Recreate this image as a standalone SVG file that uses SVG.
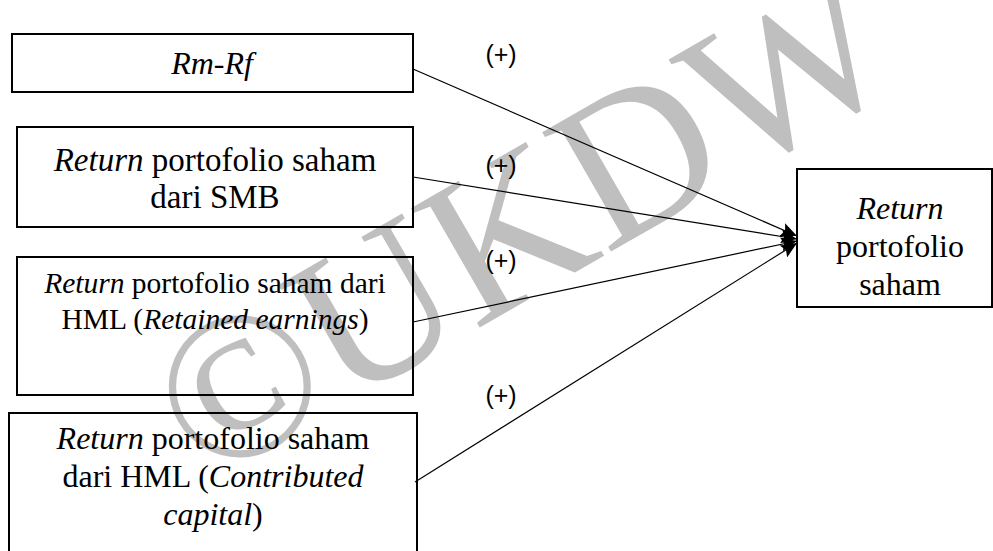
<svg xmlns="http://www.w3.org/2000/svg" width="993" height="551" viewBox="0 0 993 551">
<style>
.box{fill:none;stroke:#000;stroke-width:2}
.t{font-family:"Liberation Serif","Times New Roman",serif;font-size:32px;fill:#000;text-anchor:middle}
.t2{font-size:33px}
.t3{font-size:29.5px}
.i{font-style:italic}
.lbl{font-family:"Liberation Sans",Arial,sans-serif;font-size:25px;fill:#000;text-anchor:middle}
.edge{stroke:#000;stroke-width:1.2;fill:none;marker-end:url(#arr)}
.wm{font-family:"Liberation Serif","Times New Roman",serif;font-size:210px;fill:#bfbfbf}
</style>
<defs>
<marker id="arr" markerUnits="userSpaceOnUse" markerWidth="17" markerHeight="14" refX="16" refY="7" orient="auto">
<path d="M0,0 L16,7 L0,14 L3,7 Z" fill="#000"/>
</marker>
</defs>
<rect width="993" height="551" fill="#fff"/>
<text class="wm" x="205" y="486" transform="rotate(-30 205 486)">©UKDW</text>
<g id="connectors">
<line class="edge" x1="413" y1="69" x2="797" y2="236"/>
<line class="edge" x1="413" y1="177" x2="797" y2="239"/>
<line class="edge" x1="413" y1="322" x2="797" y2="241"/>
<line class="edge" x1="415" y1="482" x2="797" y2="243"/>
<text class="lbl" x="501" y="63">(+)</text>
<text class="lbl" x="501" y="174">(+)</text>
<text class="lbl" x="501" y="269">(+)</text>
<text class="lbl" x="501" y="404">(+)</text>
</g>
<g id="n1">
<rect class="box" x="12" y="34" width="401" height="58"/>
<text class="t i" x="212" y="74">Rm-Rf</text>
</g>
<g id="n2">
<rect class="box" x="17" y="127" width="396" height="100"/>
<text class="t t2" x="215" y="171"><tspan class="i">Return</tspan> portofolio saham</text>
<text class="t t2" x="215" y="208">dari SMB</text>
</g>
<g id="n3">
<rect class="box" x="17" y="257" width="396" height="138"/>
<text class="t t3" x="215" y="293"><tspan class="i">Return</tspan> portofolio saham dari</text>
<text class="t t3" x="215" y="329">HML (<tspan class="i">Retained earnings</tspan>)</text>
</g>
<g id="n4">
<rect class="box" x="9" y="413" width="408" height="160"/>
<text class="t" x="213" y="449"><tspan class="i">Return</tspan> portofolio saham</text>
<text class="t" x="213" y="487">dari HML (<tspan class="i">Contributed</tspan></text>
<text class="t" x="213" y="525"><tspan class="i">capital</tspan>)</text>
</g>
<g id="n5">
<rect class="box" x="797" y="169" width="195" height="138"/>
<text class="t" x="900" y="219" font-style="italic">Return</text>
<text class="t" x="900" y="257">portofolio</text>
<text class="t" x="900" y="295">saham</text>
</g>
</svg>
